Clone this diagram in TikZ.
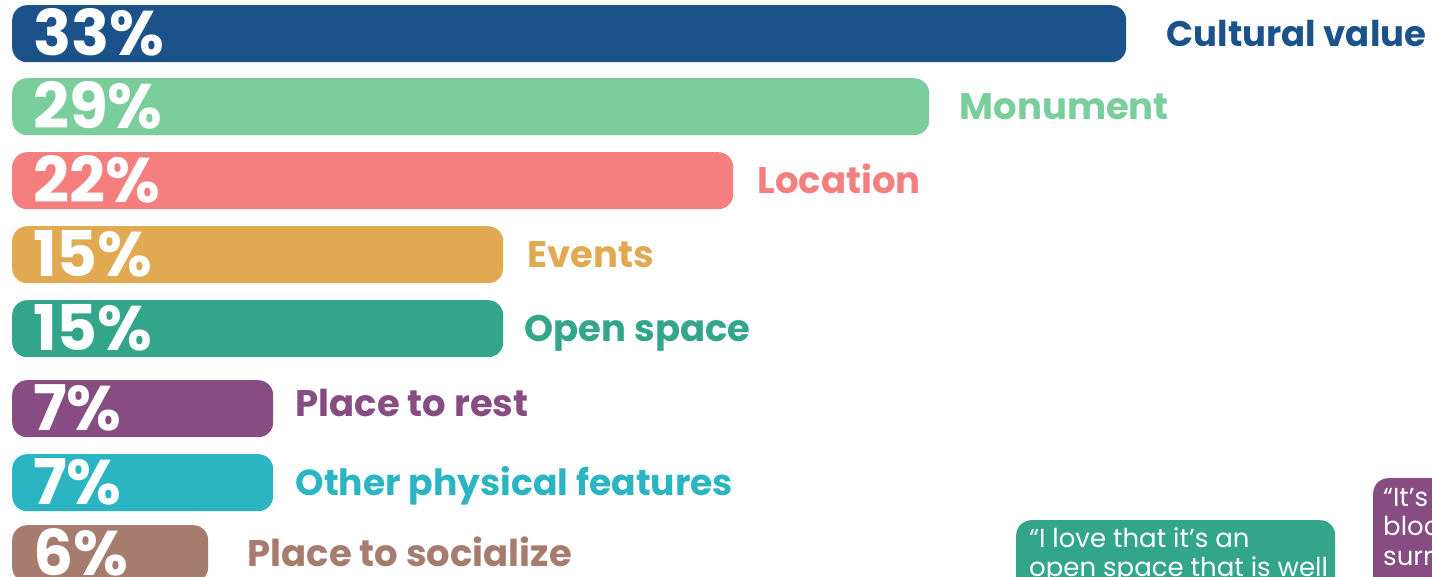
\documentclass[tikz,border=0pt]{standalone}
\usepackage{fontspec}
\setmainfont{Poppins}
\usetikzlibrary{positioning}

\definecolor{cultblue}{HTML}{1B528A}
\definecolor{monugreen}{HTML}{7ACE9B}
\definecolor{locsalmon}{HTML}{F57F7F}
\definecolor{evorange}{HTML}{E1AA52}
\definecolor{openteal}{HTML}{33A68A}
\definecolor{restpurple}{HTML}{874C82}
\definecolor{physcyan}{HTML}{2BB5C3}
\definecolor{socbrown}{HTML}{A67C6E}

\begin{document}
\begin{tikzpicture}[x=1pt,y=-1pt,
	bar/.style={rounded corners=15pt,minimum height=57pt,inner sep=0,anchor=north west},
	pct/.style={text=white,font=\bfseries\fontsize{63}{63}\selectfont,inner sep=0,text height=44pt,text depth=0pt,anchor=west},
	lbl/.style={font=\bfseries\fontsize{37}{37}\selectfont,inner sep=0,text height=26pt,text depth=0pt},
	bubble/.style={rounded corners=15pt,anchor=north west,inner sep=0},
	qtxt/.style={text=white,inner sep=0,anchor=base west,font=\fontsize{26}{29.5}\selectfont},
]
\useasboundingbox (0,0) rectangle (1432,577);
\clip (0,0) rectangle (1432,577);

% bars
\node[bar,fill=cultblue,minimum width=1114pt] (b1) at (12,5) {};
\node[bar,fill=monugreen,minimum width=917pt] (b2) at (12,78) {};
\node[bar,fill=locsalmon,minimum width=721pt] (b3) at (12,152) {};
\node[bar,fill=evorange,minimum width=491pt] (b4) at (12,226) {};
\node[bar,fill=openteal,minimum width=491pt] (b5) at (12,300) {};
\node[bar,fill=restpurple,minimum width=261pt] (b6) at (12,380) {};
\node[bar,fill=physcyan,minimum width=261pt] (b7) at (12,454) {};
\node[bar,fill=socbrown,minimum width=196pt] (b8) at (12,525) {};

% percentages
\node[pct] (p1) at ([xshift=21pt]b1.west) {33\%};
\node[pct] (p2) at ([xshift=21pt]b2.west) {29\%};
\node[pct] (p3) at ([xshift=21pt]b3.west) {22\%};
\node[pct] (p4) at ([xshift=21pt]b4.west) {15\%};
\node[pct] (p5) at ([xshift=21pt]b5.west) {15\%};
\node[pct] (p6) at ([xshift=21pt]b6.west) {7\%};
\node[pct] (p7) at ([xshift=21pt]b7.west) {7\%};
\node[pct] (p8) at ([xshift=21pt]b8.west) {6\%};

% labels
\node[lbl,text=cultblue,right=40pt of b1,font=\bfseries\fontsize{35.5}{36}\selectfont] (l1) {Cultural value};
\node[lbl,text=monugreen,right=30pt of b2] (l2) {Monument};
\node[lbl,text=locsalmon,right=24pt of b3] (l3) {Location};
\node[lbl,text=evorange,right=24pt of b4] (l4) {Events};
\node[lbl,text=openteal,right=21pt of b5] (l5) {Open space};
\node[lbl,text=restpurple,right=22pt of b6,yshift=5pt] (l6) {Place to rest};
\node[lbl,text=physcyan,right=22pt of b7,font=\bfseries\fontsize{36.2}{37}\selectfont] (l7) {Other physical features};
\node[lbl,text=socbrown,right=39pt of b8] (l8) {Place to socialize};

% quotes
\node[bubble,fill=openteal,minimum width=319pt,minimum height=120pt] (q1) at (1016,520) {};
\node[qtxt] (t1) at ([shift={(13,27)}]q1.north west)
	{\begin{tabular}[t]{@{}l@{}}“I love that it’s an\\open space that is well\end{tabular}};
\node[bubble,fill=restpurple,minimum width=150pt,minimum height=160pt] (q2) at (1373,478) {};
\node[qtxt] (t2) at ([shift={(10,28)}]q2.north west)
	{\begin{tabular}[t]{@{}l@{}}“It’s\\bloc\\surr\end{tabular}};
\end{tikzpicture}
\end{document}
